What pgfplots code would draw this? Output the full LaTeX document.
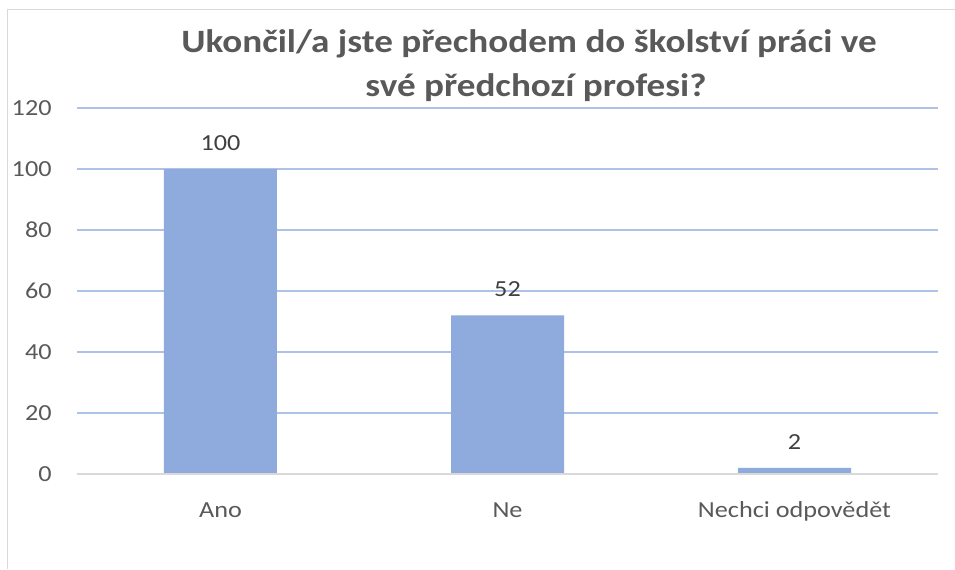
\documentclass[border=0pt]{standalone}
\usepackage{pgfplots}
\pgfplotsset{compat=1.18}
\usepackage{fontspec}
\setmainfont{Carlito}[FakeStretch=1.14]
\definecolor{barblue}{HTML}{8FAADC}
\definecolor{gridblue}{HTML}{AEC2E8}
\definecolor{txtgray}{HTML}{595959}
\definecolor{lblgray}{HTML}{404040}
\definecolor{framegray}{HTML}{D9D9D9}
\begin{document}
\begin{tikzpicture}
\path[use as bounding box] (0,0) rectangle (477.5pt,284.5pt);
\draw[framegray, line width=0.8pt] (3.75pt,0) -- (3.75pt,279.75pt) -- (477.5pt,279.75pt);
\node[anchor=base, text=txtgray, font=\fontsize{16.3}{20}\selectfont\bfseries, inner sep=0pt] at (264.5pt,258pt) {Ukončil/a jste přechodem do školství práci ve};
\node[anchor=base, text=txtgray, font=\fontsize{16.3}{20}\selectfont\bfseries, inner sep=0pt] at (268pt,236pt) {své předchozí profesi?};
\begin{axis}[
  at={(38.5pt,47.5pt)}, anchor=south west,
  scale only axis, width=430.5pt, height=183pt,
  xmin=-0.5, xmax=2.5, ymin=0, ymax=120,
  ytick={0,20,...,120},
  xtick={0,1,2},
  xticklabels={Ano,Ne,Nechci odpovědět},
  major tick length=0pt,
  ymajorgrids,
  grid style={gridblue, line width=0.75pt},
  /pgf/number format/assume math mode=true,
  tick label style={font=\fontsize{11.5}{14}\selectfont, text=txtgray, inner sep=0pt},
  yticklabel style={anchor=east, xshift=-12.5pt},
  xticklabel style={anchor=base, yshift=-21.5pt},
  separate axis lines,
  axis x line*=bottom, axis y line*=left,
  x axis line style={draw=none}, y axis line style={draw=none},
  clip=false,
]
\addplot[ybar, bar width=56.5pt, fill=barblue, draw=none,
  nodes near coords,
  nodes near coords style={anchor=south, inner sep=0pt, yshift=9pt, font=\fontsize{11.5}{14}\selectfont, text=lblgray}]
  coordinates {(0,100) (1,52) (2,2)};
\draw[framegray, line width=0.9pt] (axis cs:-0.5,0) -- (axis cs:2.5,0);
\end{axis}
\end{tikzpicture}
\end{document}
